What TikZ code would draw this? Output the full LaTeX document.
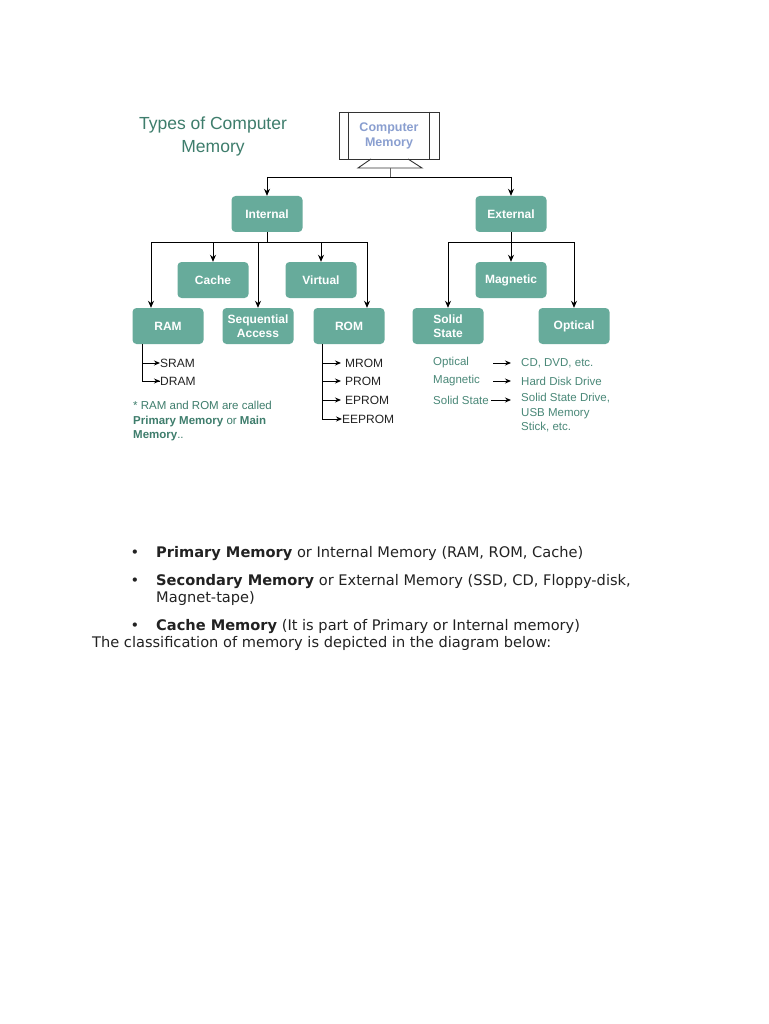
\documentclass[tikz,border=0pt]{standalone}
\usepackage{fontspec}
\setmainfont{Liberation Sans}
\newfontfamily\verdfont{DejaVu Sans}
\usetikzlibrary{arrows.meta}
\definecolor{boxteal}{HTML}{67AB9B}
\definecolor{titlegreen}{HTML}{3E7D6C}
\definecolor{monblue}{HTML}{8A9FD0}
\definecolor{legendgreen}{HTML}{4A8878}
\definecolor{bodytext}{HTML}{222222}
\begin{document}
\begin{tikzpicture}[x=1pt,y=-1pt,
  box/.style={fill=boxteal, rounded corners=4pt, minimum width=71pt, minimum height=36pt,
    inner sep=0pt, text=white, align=center, font=\bfseries\fontsize{12}{14}\selectfont},
  conn/.style={line width=0.9pt, black},
  arr/.style={conn, -{Stealth[length=7pt,width=6pt]}},
  smallarr/.style={conn, -{Stealth[length=6pt,width=5pt]}},
  item/.style={anchor=west, inner sep=0pt, text=bodytext, font=\fontsize{12}{13}\selectfont},
  legend/.style={anchor=west, inner sep=0pt, text=legendgreen, font=\fontsize{11.5}{14.5}\selectfont, align=left},
  body/.style={anchor=base west, inner sep=0pt, text=bodytext, font=\verdfont\fontsize{14.6}{17}\selectfont},
  bullet/.style={anchor=base, inner sep=0pt, text=bodytext, font=\verdfont\fontsize{14.6}{17}\selectfont}
]
\useasboundingbox (0,0) rectangle (768,1024);
\fill[white] (0,0) rectangle (768,1024);

% title
\node[text=titlegreen, align=center, font=\fontsize{17.5}{23}\selectfont, inner sep=0pt] (title) at (213,136) {Types of Computer\\Memory};

% monitor
\node[draw=black!80, line width=0.9pt, minimum width=100pt, minimum height=47pt, inner sep=0pt,
  text=monblue, align=center, font=\bfseries\fontsize{12.5}{15}\selectfont] (monitor) at (389,135.5) {Computer\\Memory};
\draw[black!80, line width=0.9pt] ([xshift=10pt]monitor.north west) -- ([xshift=10pt]monitor.south west);
\draw[black!80, line width=0.9pt] ([xshift=-10pt]monitor.north east) -- ([xshift=-10pt]monitor.south east);
\draw[black!80, line width=0.9pt] (371,159) -- (358,168) -- (422,168) -- (408,159);
\coordinate (stand) at (390,168);

% level 1
\node[box] (internal) at (267,214) {Internal};
\node[box] (external) at (511,214) {External};

% level 2
\node[box] (cache) at (213,280) {Cache};
\node[box] (virtual) at (321,280) {Virtual};
\node[box] (magnetic) at (511,280) {Magnetic};

% level 3
\node[box] (ram) at (168,326) {RAM};
\node[box] (seq) at (258,326) {Sequential\\Access};
\node[box] (rom) at (349,326) {ROM};
\node[box] (solid) at (448,326) {Solid\\State};
\node[box] (optical) at (574,326) {Optical};

% top bus
\coordinate (topbus) at (390,177);
\draw[conn, black!60] (stand) -- (topbus);
\draw[conn] (internal.north |- topbus) -- (external.north |- topbus);
\draw[arr] (internal.north |- topbus) -- (internal.north);
\draw[arr] (external.north |- topbus) -- (external.north);

% internal bus
\coordinate (iL) at (151,242);
\coordinate (iR) at (367,242);
\draw[conn] (internal.south) -- (internal.south |- iL);
\draw[conn] (iL) -- (iR);
\draw[arr] (iL) -- (iL |- ram.north);
\draw[arr] (cache.north |- iL) -- (cache.north);
\draw[arr] (seq.north |- iL) -- (seq.north);
\draw[arr] (virtual.north |- iL) -- (virtual.north);
\draw[arr] (iR) -- (iR |- rom.north);

% external bus
\coordinate (eB) at (511,242);
\draw[conn] (external.south) -- (eB);
\draw[conn] (solid.north |- eB) -- (optical.north |- eB);
\draw[arr] (solid.north |- eB) -- (solid.north);
\draw[arr] (eB) -- (magnetic.north);
\draw[arr] (optical.north |- eB) -- (optical.north);

% RAM items
\node[item] (sram) at (160,363) {SRAM};
\node[item] (dram) at (160,381) {DRAM};
\coordinate (ramline) at (142,344);
\draw[conn] (ramline) -- (ramline |- dram.west) -- (dram.west);
\draw[smallarr] (ramline |- sram.west) -- (sram.west);
\draw[smallarr] (ramline |- dram.west) -- (dram.west);

% ROM items
\node[item] (mrom) at (345,363) {MROM};
\node[item] (prom) at (345,381) {PROM};
\node[item] (eprom) at (345,400) {EPROM};
\node[item] (eeprom) at (342,419) {EEPROM};
\coordinate (romline) at (322,344);
\draw[conn] (romline) -- (romline |- eeprom.west);
\draw[smallarr] (romline |- mrom.west) -- ([xshift=-4pt]mrom.west);
\draw[smallarr] (romline |- prom.west) -- ([xshift=-4pt]prom.west);
\draw[smallarr] (romline |- eprom.west) -- ([xshift=-4pt]eprom.west);
\draw[smallarr] (romline |- eeprom.west) -- (eeprom.west);

% note
\node[anchor=north west, inner sep=0pt, text=titlegreen, align=left, font=\fontsize{11.5}{14.5}\selectfont] (note) at (133,401)
  {* RAM and ROM are called\\\textbf{Primary Memory} or \textbf{Main}\\\textbf{Memory}..};

% legend
\node[legend] (lopt) at (433,363) {Optical};
\node[legend] (lmag) at (433,381) {Magnetic};
\node[legend] (lsol) at (433,400) {Solid State};
\node[legend] (ropt) at (521,363) {CD, DVD, etc.};
\node[legend] (rmag) at (521,381) {Hard Disk Drive};
\node[legend, anchor=north west] (rsol) at (521,393) {Solid State Drive,\\USB Memory\\Stick, etc.};
\draw[smallarr] (493,363) -- ([xshift=-10pt]ropt.west);
\draw[smallarr] (493,381) -- ([xshift=-10pt]rmag.west);
\draw[smallarr] (lsol.east) ++(2pt,0) -- (511,400);

% body text
\node[bullet] (b1) at (135,557) {•};
\node[body] (t1) at (156,557) {\textbf{Primary Memory} or Internal Memory (RAM, ROM, Cache)};
\node[bullet] (b2) at (135,585) {•};
\node[body] (t2) at (156,585) {\textbf{Secondary Memory} or External Memory (SSD, CD, Floppy-disk,};
\node[body] (t2b) at (156,602) {Magnet-tape)};
\node[bullet] (b3) at (135,630) {•};
\node[body] (t3) at (156,630) {\textbf{Cache Memory} (It is part of Primary or Internal memory)};
\node[body] (t4) at (92,647) {The classification of memory is depicted in the diagram below:};
\end{tikzpicture}
\end{document}
